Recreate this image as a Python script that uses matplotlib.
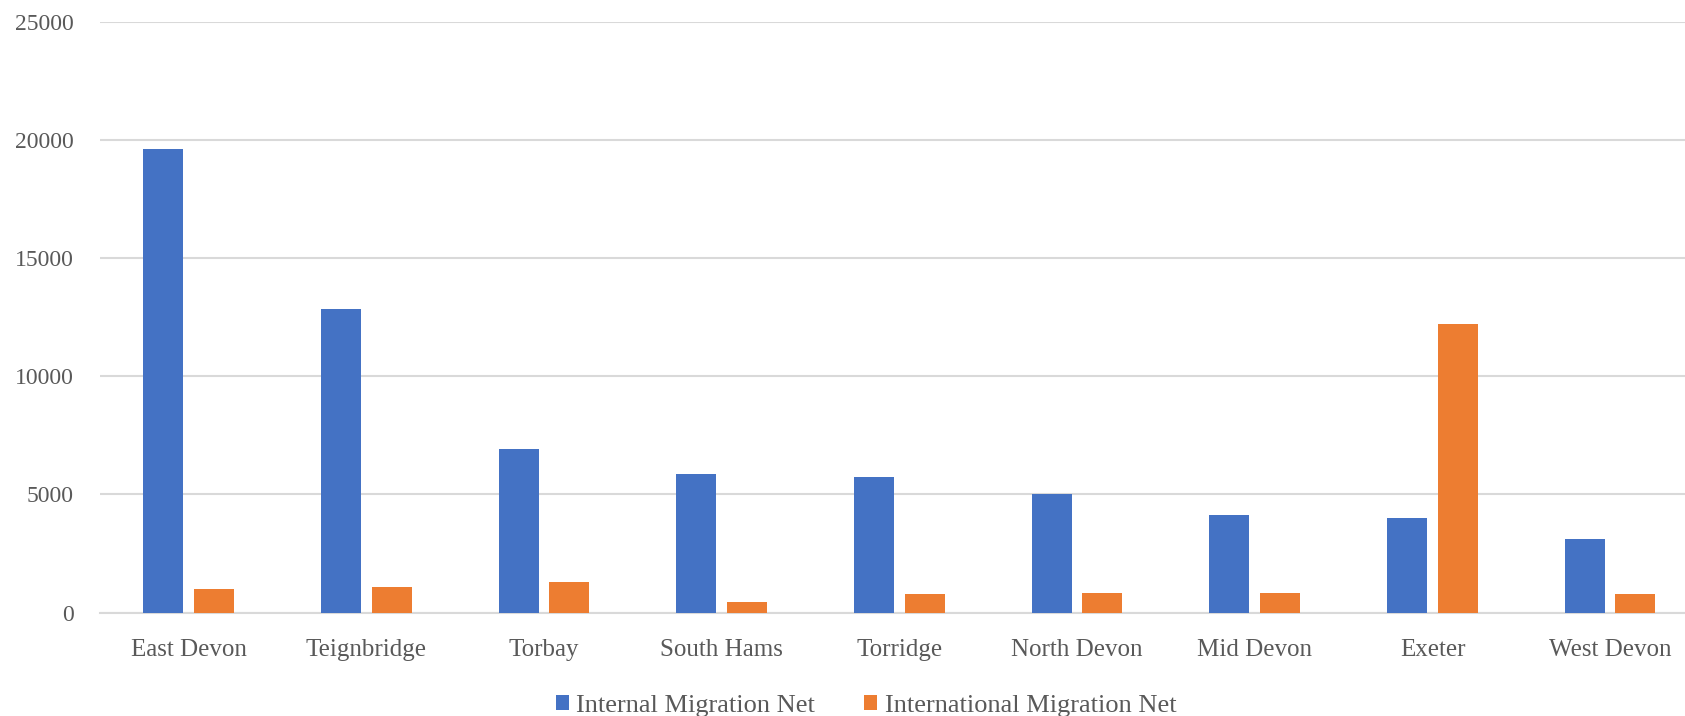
import numpy as np
import matplotlib.pyplot as plt

# net migration by Devon district
districts = ["East Devon", "Teignbridge", "Torbay", "South Hams", "Torridge",
             "North Devon", "Mid Devon", "Exeter", "West Devon"]
internal_net = [19610, 12850, 6940, 5880, 5720, 5030, 4120, 3990, 3100]
international_net = [1000, 1100, 1315, 440, 795, 820, 820, 12230, 780]

plt.rcParams['font.family'] = ['Liberation Serif', 'DejaVu Serif']
grey = '#595959'

fig = plt.figure(figsize=(16.85, 7.16), dpi=100)
ax = fig.add_axes([0.0593, 0.1443, 0.949, 0.8254])

x = np.arange(len(districts))
w = 0.225
ax.bar(x - 0.1425, internal_net, w, color='#4472C4', label='Internal Migration Net', zorder=3)
ax.bar(x + 0.1425, international_net, w, color='#ED7D31', label='International Migration Net', zorder=3)

ax.set_xlim(-0.5, len(districts) - 0.5)
ax.set_ylim(0, 25000)
ax.set_yticks(range(0, 25001, 5000))
ax.set_xticks(x)
ax.set_xticklabels(districts)
ax.grid(axis='y', color='#d9d9d9', linewidth=1.5, zorder=0)
for s in ['top', 'right', 'left']:
    ax.spines[s].set_visible(False)
ax.spines['bottom'].set_color('#d9d9d9')
ax.spines['bottom'].set_linewidth(1.5)
ax.tick_params(axis='y', length=0, pad=19, labelsize=17, labelcolor=grey)
ax.tick_params(axis='x', length=0, pad=19, labelsize=18, labelcolor=grey)

leg = fig.legend(loc='center', bbox_to_anchor=(0.514, 0.014), ncol=2, frameon=False,
                 fontsize=19, handlelength=0.5, handleheight=0.5,
                 handletextpad=0.28, columnspacing=1.85)
for t in leg.get_texts():
    t.set_color(grey)

fig.savefig('out.png', dpi=100)
